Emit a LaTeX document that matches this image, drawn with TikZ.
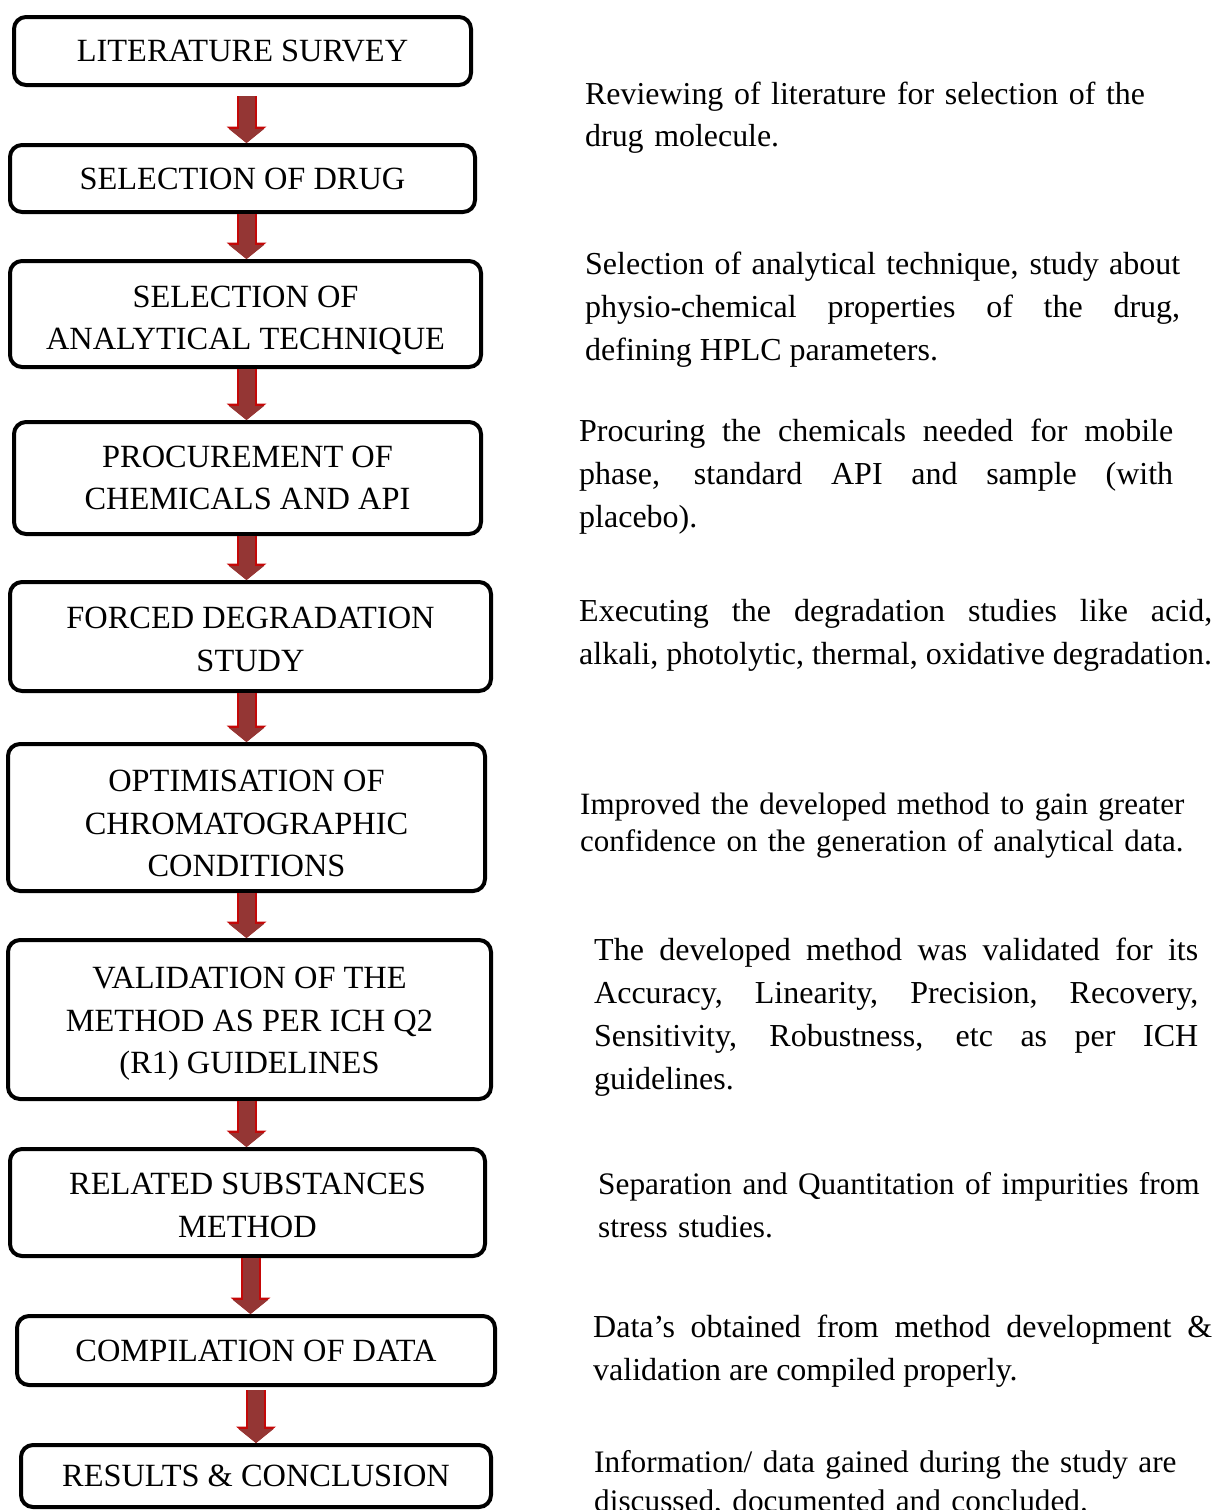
\documentclass[tikz,border=0pt]{standalone}
\usepackage{fontspec}
\setmainfont{Liberation Serif}
\usepackage{tikz}
\usetikzlibrary{arrows.meta}
\definecolor{arrowfill}{RGB}{148,54,52}
\definecolor{arrowline}{RGB}{196,8,8}
\tolerance=9999
\hyphenpenalty=10000
\exhyphenpenalty=10000

\begin{document}
\begin{tikzpicture}[x=1pt,y=-1pt,font=\fontsize{32.4}{42.5}\selectfont]
\tikzstyle{stage}=[rectangle,draw=black,line width=4pt,rounded corners=12pt,align=center,inner sep=0pt]
\tikzstyle{note}=[anchor=base west,align=left,inner sep=0pt,font=\fontsize{31.3}{43}\selectfont]
\tikzstyle{justnote}=[anchor=base west,align=justify,inner sep=0pt,font=\fontsize{32}{43}\selectfont]
\tikzstyle{flow}=[line width=16pt,draw=arrowfill,-{Triangle[width=35pt,length=14pt,line width=0pt]},
  preaction={draw=arrowline,line width=20pt,-{Triangle[width=40pt,length=16.5pt,line width=0pt]}}]
\useasboundingbox (0,0) rectangle (1216,1510);
% stages
\node[stage,minimum width=457pt,minimum height=68pt] (litsurvey) at (242.5,51) {LITERATURE SURVEY};
\node[stage,minimum width=465pt,minimum height=67pt] (drugsel) at (242.5,178.5) {SELECTION OF DRUG};
\node[stage,minimum width=471pt,minimum height=106pt] (techsel) at (245.5,314) {\rule{0pt}{34pt}SELECTION OF\\ANALYTICAL TECHNIQUE};
\node[stage,minimum width=467pt,minimum height=112pt] (procure) at (247.5,478) {PROCUREMENT OF\\CHEMICALS AND API};
\node[stage,minimum width=481pt,minimum height=109pt] (forcedeg) at (250.5,636.5) {\rule{0pt}{27pt}FORCED DEGRADATION\\STUDY};
\node[stage,minimum width=477pt,minimum height=147pt] (optim) at (246.5,817.5) {\rule{0pt}{34pt}OPTIMISATION OF\\CHROMATOGRAPHIC\\CONDITIONS};
\node[stage,minimum width=483pt,minimum height=159pt] (valid) at (249.5,1019.5) {\rule{0pt}{30pt}VALIDATION OF THE\\METHOD AS PER ICH Q2\\(R1) GUIDELINES};
\node[stage,minimum width=475pt,minimum height=107pt] (relsub) at (247.5,1202.5) {\rule{0pt}{27pt}RELATED SUBSTANCES\\METHOD};
\node[stage,minimum width=478pt,minimum height=69pt] (compile) at (256,1350.5) {COMPILATION OF DATA};
\node[stage,minimum width=470pt,minimum height=62pt] (results) at (256,1476) {RESULTS \& CONCLUSION};
% block arrows
\draw[flow,shorten <=9pt] ([xshift=4pt]litsurvey.south) -- ([xshift=4pt]litsurvey.south |- drugsel.north);
\draw[flow] ([xshift=4pt]drugsel.south) -- ([xshift=4pt]drugsel.south |- techsel.north);
\draw[flow] ([xshift=1pt]techsel.south) -- ([xshift=1pt]techsel.south |- procure.north);
\draw[flow] ([xshift=-1pt]procure.south) -- ([xshift=-1pt]procure.south |- forcedeg.north);
\draw[flow] ([xshift=-4pt]forcedeg.south) -- ([xshift=-4pt]forcedeg.south |- optim.north);
\draw[flow] (optim.south) -- (optim.south |- valid.north);
\draw[flow] ([xshift=-3pt]valid.south) -- ([xshift=-3pt]valid.south |- relsub.north);
\draw[flow] ([xshift=3pt]relsub.south) -- ([xshift=3pt]relsub.south |- compile.north);
\draw[flow,shorten <=3pt] (compile.south) -- (compile.south |- results.north);
% notes
\node[note,text width=620pt,font=\fontsize{31.9}{42.5}\selectfont] (litnote) at (585,104) {Reviewing of literature for selection of the\\drug molecule.};
\node[justnote,text width=595pt] (technote) at (585,274) {Selection of analytical technique, study about\linebreak physio-chemical properties of the drug,\linebreak defining HPLC parameters.};
\node[justnote,text width=594pt] (procnote) at (579,441) {Procuring the chemicals needed for mobile\linebreak phase, standard API and sample (with\linebreak placebo).};
\node[justnote,text width=633pt] (degnote) at (579,621) {Executing the degradation studies like acid,\linebreak alkali, photolytic, thermal, oxidative degradation.};
\node[note,text width=630pt,font=\fontsize{31}{37}\selectfont] (optnote) at (580,814) {Improved the developed method to gain greater\\confidence on the generation of analytical data.};
\node[justnote,text width=604pt] (valnote) at (594,960) {The developed method was validated for its\linebreak Accuracy, Linearity, Precision, Recovery,\linebreak Sensitivity, Robustness, etc as per ICH\linebreak guidelines.};
\node[note,text width=618pt] (relnote) at (598,1194) {Separation and Quantitation of impurities from\\stress studies.};
\node[justnote,text width=619pt] (compnote) at (593,1337) {Data’s obtained from method development \&\linebreak validation are compiled properly.};
\node[note,text width=618pt,font=\fontsize{31.3}{39}\selectfont] (resnote) at (594,1472) {Information/ data gained during the study are\\discussed, documented and concluded.};
\end{tikzpicture}
\end{document}
